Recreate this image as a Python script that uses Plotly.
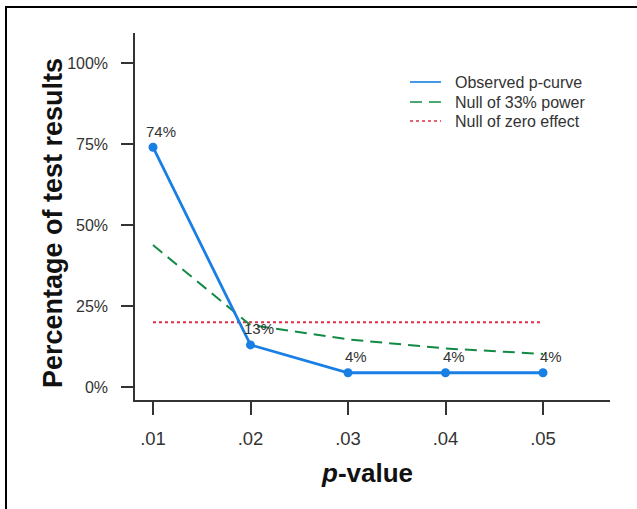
import plotly.graph_objects as go

# ---- data ----
p_values = [0.01, 0.02, 0.03, 0.04, 0.05]
x_tick_labels = [".01", ".02", ".03", ".04", ".05"]
observed = [74, 13, 4.4, 4.4, 4.4]
observed_labels = ["74%", "13%", "4%", "4%", "4%"]
null_33 = [43.8, 19.1, 14.7, 11.9, 10.2]
null_zero = [20, 20, 20, 20, 20]
y_ticks = [0, 25, 50, 75, 100]
y_tick_labels = ["0%", "25%", "50%", "75%", "100%"]
legend_names = ["Observed p-curve", "Null of 33% power", "Null of zero effect"]

W, H = 637, 509
L, R, T, B = 135, 27, 33, 109
PW, PH = W - L - R, H - T - B

def px_x(px):
    return (px - L) / PW

def px_y(py):
    return (H - B - py) / PH

FONT = "Liberation Sans, Arial, Helvetica, sans-serif"
BLUE = "#1a7fe4"
GREEN = "#128a45"
RED = "#dc2f4a"
styles = [dict(color=BLUE, width=2.8),
          dict(color=GREEN, width=2, dash="12px,7px"),
          dict(color=RED, width=2, dash="dot")]

fig = go.Figure()
fig.add_trace(go.Scatter(x=p_values, y=null_zero, mode="lines",
                         name=legend_names[2], line=styles[2]))
fig.add_trace(go.Scatter(x=p_values, y=null_33, mode="lines",
                         name=legend_names[1], line=styles[1]))
fig.add_trace(go.Scatter(x=p_values, y=observed, mode="lines+markers",
                         name=legend_names[0], line=styles[0],
                         marker=dict(color=BLUE, size=9)))

annotations = []
for xv, yv, lab in zip(p_values, observed, observed_labels):
    annotations.append(dict(x=xv, y=yv, xref="x", yref="y", text=lab,
                            showarrow=False, xshift=8, yshift=16,
                            font=dict(family=FONT, size=15, color="#333333")))
annotations.append(dict(x=px_x(53), y=px_y(223), xref="paper", yref="paper",
                        text="<b>Percentage of test results</b>", textangle=-90,
                        showarrow=False, xanchor="center", yanchor="middle",
                        font=dict(family=FONT, size=27, color="#111111")))
annotations.append(dict(x=px_x(367), y=px_y(473), xref="paper", yref="paper",
                        text="<b><i>p</i>-value</b>",
                        showarrow=False, xanchor="center", yanchor="middle",
                        font=dict(family=FONT, size=26, color="#111111")))

# outer frame (only top and left edges visible in the reference)
shapes = [
    dict(type="line", xref="paper", yref="paper",
         x0=px_x(5), x1=px_x(W), y0=px_y(7), y1=px_y(7),
         line=dict(color="#000000", width=2), layer="above"),
    dict(type="line", xref="paper", yref="paper",
         x0=px_x(6), x1=px_x(6), y0=px_y(6), y1=px_y(H),
         line=dict(color="#000000", width=2), layer="above"),
]

# manual legend (layout only)
legend_rows = [82, 102, 121]
for name, st, ry in zip(legend_names, styles, legend_rows):
    shapes.append(dict(type="line", xref="paper", yref="paper",
                       x0=px_x(410), x1=px_x(441), y0=px_y(ry), y1=px_y(ry),
                       line=dict(color=st["color"], width=1.6,
                                 dash=st.get("dash", "solid"))))
    annotations.append(dict(x=px_x(453), y=px_y(ry), xref="paper", yref="paper",
                            text=name, showarrow=False,
                            xanchor="left", yanchor="middle",
                            font=dict(family=FONT, size=16, color="#333333")))

fig.update_layout(
    width=W, height=H,
    margin=dict(l=L, r=R, t=T, b=B, pad=0),
    paper_bgcolor="white", plot_bgcolor="white",
    font=dict(family=FONT, size=15, color="#333333"),
    showlegend=False,
    hovermode=False,
    annotations=annotations,
    shapes=shapes,
    xaxis=dict(range=[0.01 - 18 / 9750, 0.01 + (610 - 153) / 9750],
               tickvals=p_values, ticktext=x_tick_labels,
               showgrid=False, zeroline=False, showline=True,
               linecolor="#333333", linewidth=1.5,
               ticks="outside", ticklen=13, tickwidth=1.5, tickcolor="#333333",
               ticklabelstandoff=8,
               tickfont=dict(family=FONT, size=18.5, color="#333333")),
    yaxis=dict(range=[-13 / 3.24, (387 - 33) / 3.24],
               tickvals=y_ticks, ticktext=y_tick_labels,
               showgrid=False, zeroline=False, showline=True,
               linecolor="#333333", linewidth=1.5,
               ticks="outside", ticklen=12, tickwidth=1.5, tickcolor="#333333",
               ticklabelstandoff=10,
               tickfont=dict(family=FONT, size=16, color="#333333")),
)

fig.write_html("out.html",
               config={"displayModeBar": False},
               post_script="document.body.style.margin='0';document.body.style.overflow='hidden';")
